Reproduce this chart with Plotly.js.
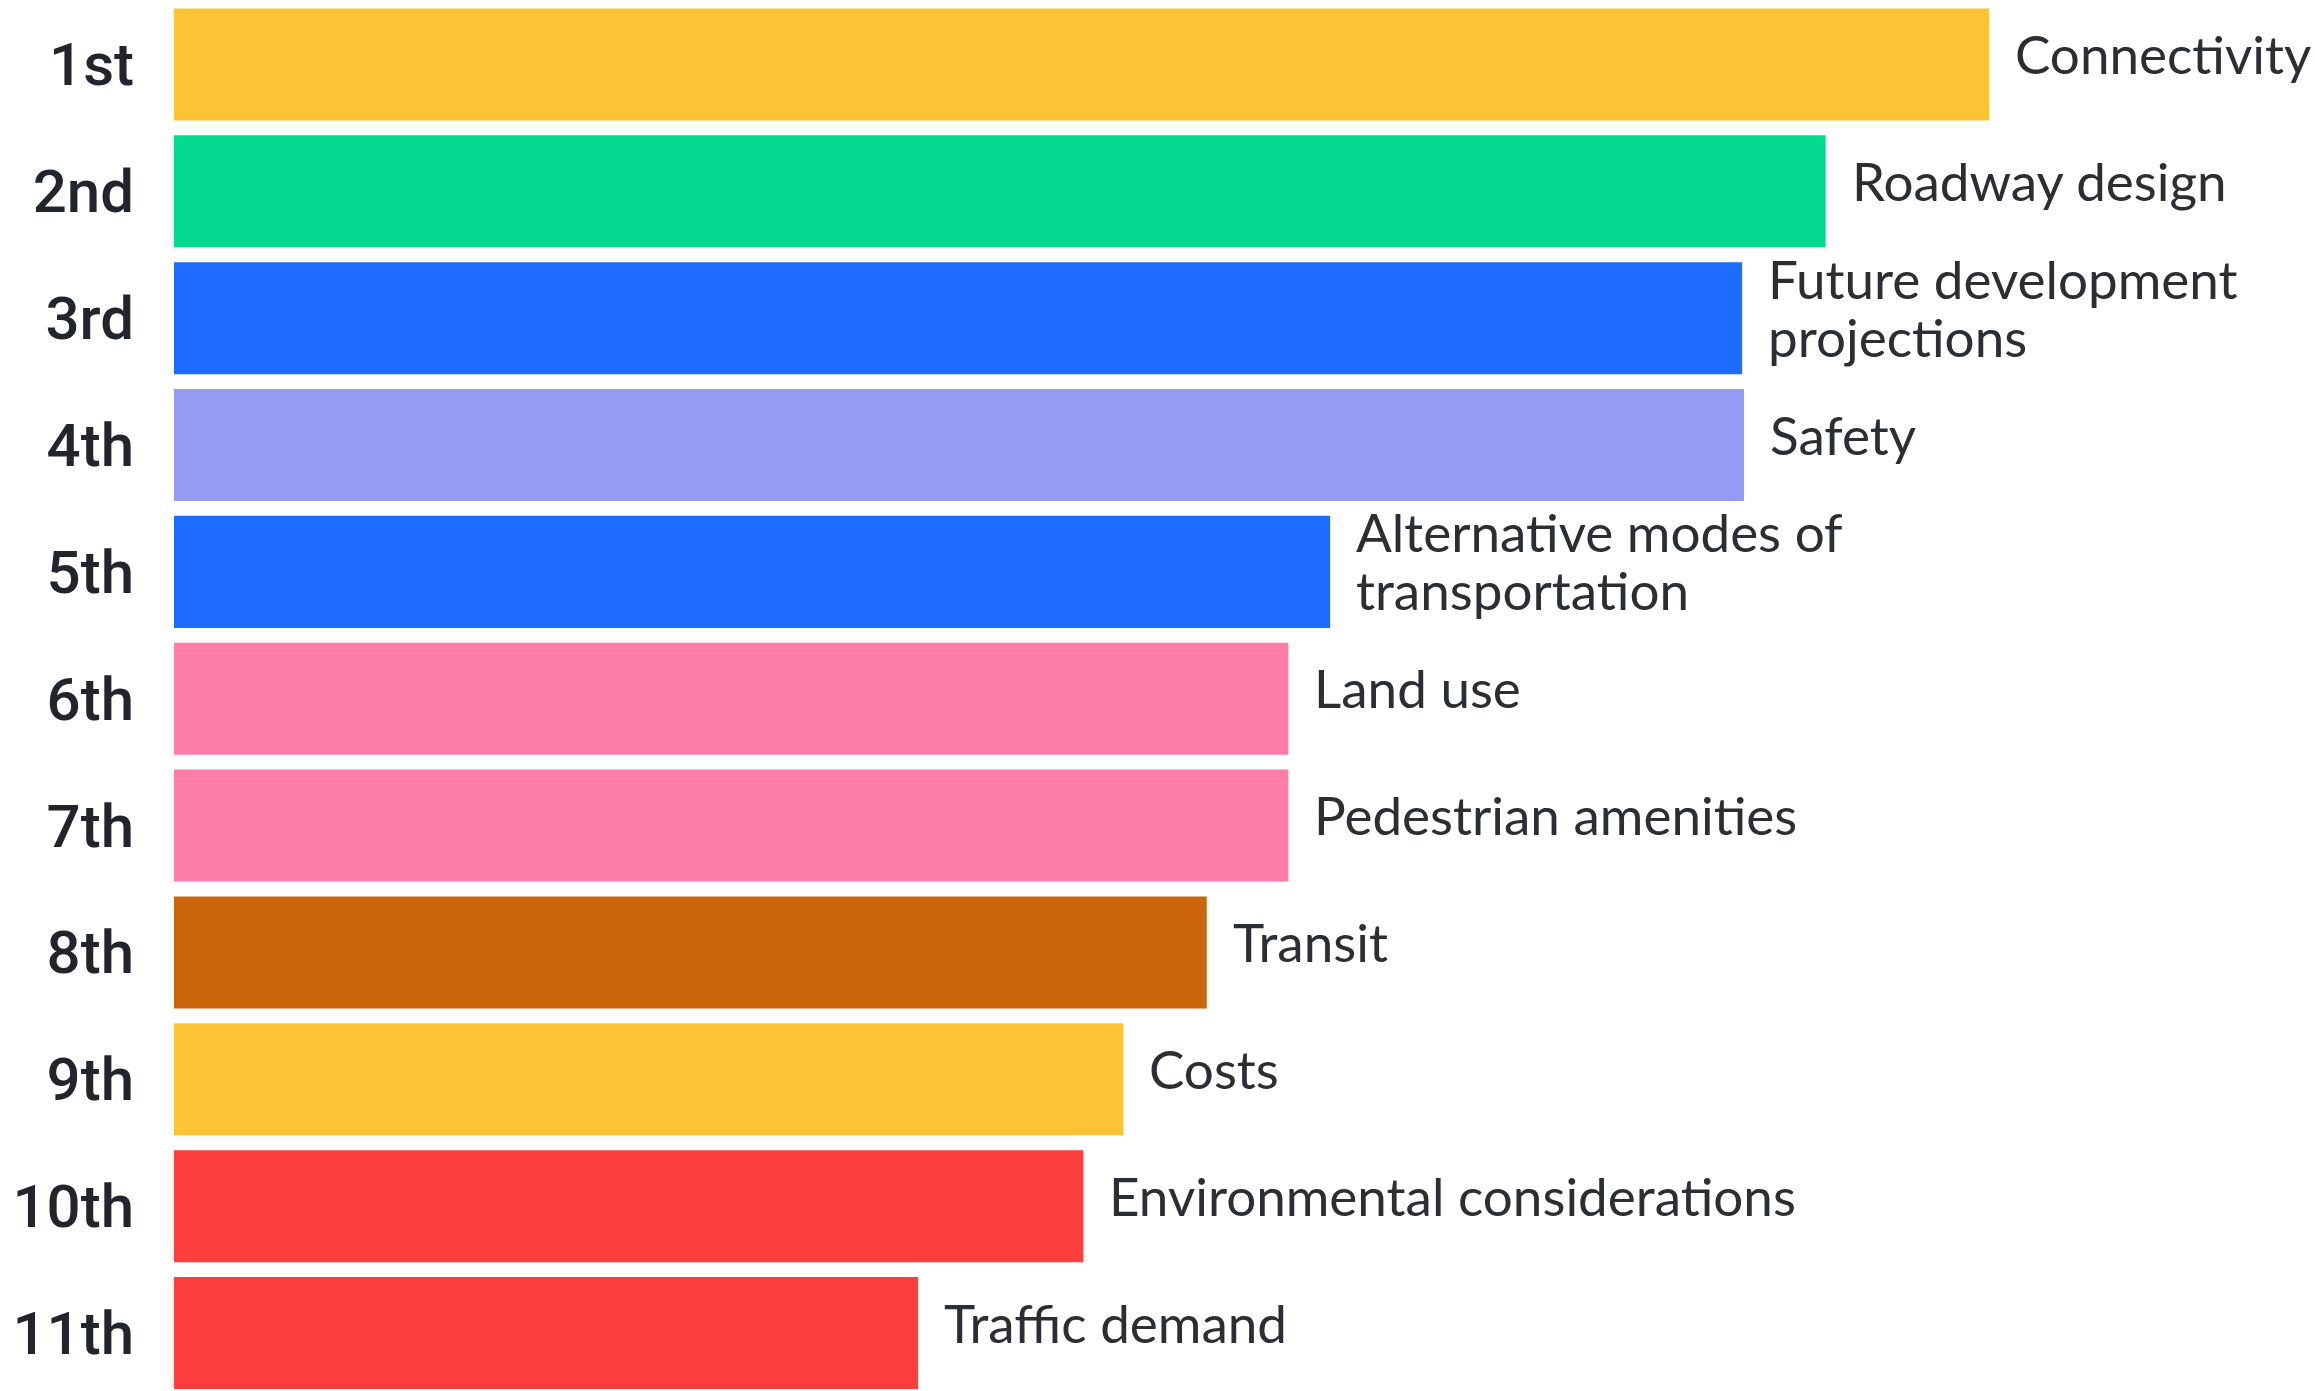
<!DOCTYPE html>
<html>
<head>
<meta charset="utf-8">
<script src="https://cdn.plot.ly/plotly-3.0.1.min.js"></script>
<style>html,body{margin:0;padding:0;background:#fff;}#chart{width:2315px;height:1391px;}</style>
</head>
<body>
<div id="chart"></div>
<script>
// Data
const ranks = ["1st","2nd","3rd","4th","5th","6th","7th","8th","9th","10th","11th"];
const factors = ["Connectivity","Roadway design","Future development<br>projections","Safety","Alternative modes of<br>transportation","Land use","Pedestrian amenities","Transit","Costs","Environmental considerations","Traffic demand"];
const scores = [100, 91.0, 86.4, 86.5, 63.7, 61.4, 61.4, 56.9, 52.3, 50.1, 41.0];
const barColors = ["#FDC335","#03D98F","#1D6BFF","#959AF3","#1D6BFF","#FE7EA8","#FE7EA8","#CA650C","#FDC335","#FE3D3D","#FE3D3D"];

const trace = {
  type: "bar",
  orientation: "h",
  x: scores,
  y: ranks,
  width: 0.883,
  marker: {color: barColors, line: {width: 0}},
  hoverinfo: "skip"
};

const lineGap = 58;
const annotations = [];
factors.forEach((f, i) => {
  const lines = f.split("<br>");
  const n = lines.length;
  lines.forEach((ln, k) => {
    annotations.push({
      x: scores[i], y: ranks[i], xref: "x", yref: "y",
      text: ln, showarrow: false, xanchor: "left", yanchor: "middle", align: "left",
      xshift: 24, yshift: 11 + ((n - 1) / 2 - k) * lineGap,
      font: {family: "Lato, 'Open Sans', sans-serif", size: 53, color: "#2B2E33"}
    });
  });
});

const layout = {
  width: 2315, height: 1391,
  margin: {l: 174, r: 0, t: 0, b: 0, pad: 0},
  paper_bgcolor: "#ffffff", plot_bgcolor: "#ffffff",
  showlegend: false,
  xaxis: {range: [0, 117.96], visible: false, showgrid: false, zeroline: false, fixedrange: true},
  yaxis: {
    type: "category", categoryorder: "array", categoryarray: ranks,
    range: [10.457, -0.508], autorange: false,
    showgrid: false, zeroline: false, showline: false, ticks: "",
    ticklabelstandoff: 39,
    tickfont: {family: "Roboto, 'Liberation Sans', sans-serif", size: 60, color: "#22262C", weight: 500}
  },
  annotations: annotations
};

Plotly.newPlot("chart", [trace], layout, {displayModeBar: false, staticPlot: true});
</script>
</body>
</html>
